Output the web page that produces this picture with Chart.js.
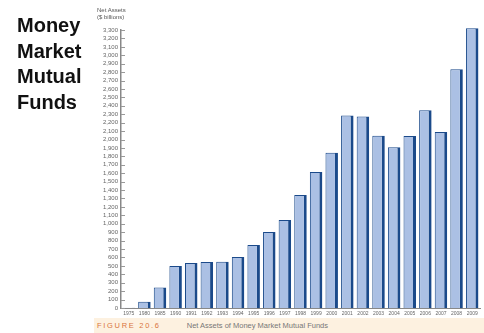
<!DOCTYPE html>
<html>
<head>
<meta charset="utf-8">
<script src="https://cdn.jsdelivr.net/npm/chart.js@4/dist/chart.umd.min.js"></script>
<style>
  html, body { margin: 0; padding: 0; background: #fff; }
  #wrap { position: relative; width: 484px; height: 333px; overflow: hidden; }
  #myChart { position: absolute; left: 0; top: 0; }
  #side {
    position: absolute; left: 17px; top: 13px;
    font: bold 20px "Liberation Sans", Arial, sans-serif;
    line-height: 25.5px; color: #111;
  }
  #units {
    position: absolute; left: 97px; top: 7px;
    font: 6px "Liberation Sans", Arial, sans-serif; line-height: 7px; color: #555;
  }
  #caption {
    position: absolute; left: 94px; top: 318px; width: 390px; height: 15px;
    background: #fdf1e0;
    font: 7.5px "Liberation Sans", Arial, sans-serif; color: #777;
    line-height: 15px; white-space: nowrap;
  }
  #caption b { color: #d9753d; font-weight: normal; letter-spacing: 1.7px; margin-left: 3px; margin-right: 26px; }
</style>
</head>
<body>
<div id="wrap">
  <canvas id="myChart" width="484" height="333"></canvas>
  <div id="side">Money<br>Market<br>Mutual<br>Funds</div>
  <div id="units">Net Assets<br>($ billions)</div>
  <div id="caption"><b>FIGURE 20.6</b>Net Assets of Money Market Mutual Funds</div>
</div>
<script>
const years = ["1975", "1980", "1985", "1990", "1991", "1992", "1993", "1994", "1995", "1996", "1997",
    "1998", "1999", "2000", "2001", "2002", "2003", "2004", "2005", "2006", "2007", "2008", "2009"];

const netAssets = [4, 75, 243, 499, 534, 546, 548, 606, 748, 903, 1045,
    1342, 1615, 1844, 2284, 2272, 2046, 1909, 2043, 2348, 2090, 2835, 3322];

const yMax = 3300;
const yStep = 100;

// little inward tick marks on the y axis
const innerTicks = {
    id: "innerTicks",
    afterDraw(chart) {
        const ctx = chart.ctx;
        const y = chart.scales.y;
        const left = chart.chartArea.left;
        ctx.save();
        ctx.strokeStyle = "#999";
        ctx.lineWidth = 1;
        y.ticks.forEach(function (t) {
            const py = Math.round(y.getPixelForValue(t.value)) + 0.5;
            ctx.beginPath();
            ctx.moveTo(left, py);
            ctx.lineTo(left + 4, py);
            ctx.stroke();
        });
        ctx.restore();
    }
};

const myChart = new Chart("myChart", {
    type: "bar",
    data: {
        labels: years,
        datasets: [{
            data: netAssets,
            backgroundColor: "#abc0e4",
            borderColor: "#1b4a8a",
            borderWidth: { left: 1, top: 1, right: 3, bottom: 0 },
            borderSkipped: "bottom",
            categoryPercentage: 1.0,
            barPercentage: 0.8,
            clip: false
        }]
    },
    options: {
        responsive: false,
        animation: false,
        layout: { padding: { left: 90, top: 30, right: 4, bottom: 0 } },
        plugins: { legend: { display: false }, tooltip: { enabled: false } },
        scales: {
            x: {
                grid: { display: false, drawTicks: false },
                border: { color: "#888", width: 1 },
                ticks: {
                    autoSkip: false, maxRotation: 0, minRotation: 0, padding: 3,
                    color: "#666", font: { size: 5, family: "Liberation Sans" }
                },
                afterFit(scale) { scale.height = 25; }
            },
            y: {
                min: 0,
                max: yMax,
                grid: { display: false, drawTicks: false },
                border: { color: "#888", width: 1.5 },
                ticks: {
                    autoSkip: false, stepSize: yStep, padding: 3, color: "#666",
                    font: { size: 6, family: "Liberation Sans" },
                    callback: (v) => v.toLocaleString("en-US")
                },
                afterFit(scale) { scale.width = 31; }
            }
        }
    },
    plugins: [innerTicks]
});
</script>
</body>
</html>
